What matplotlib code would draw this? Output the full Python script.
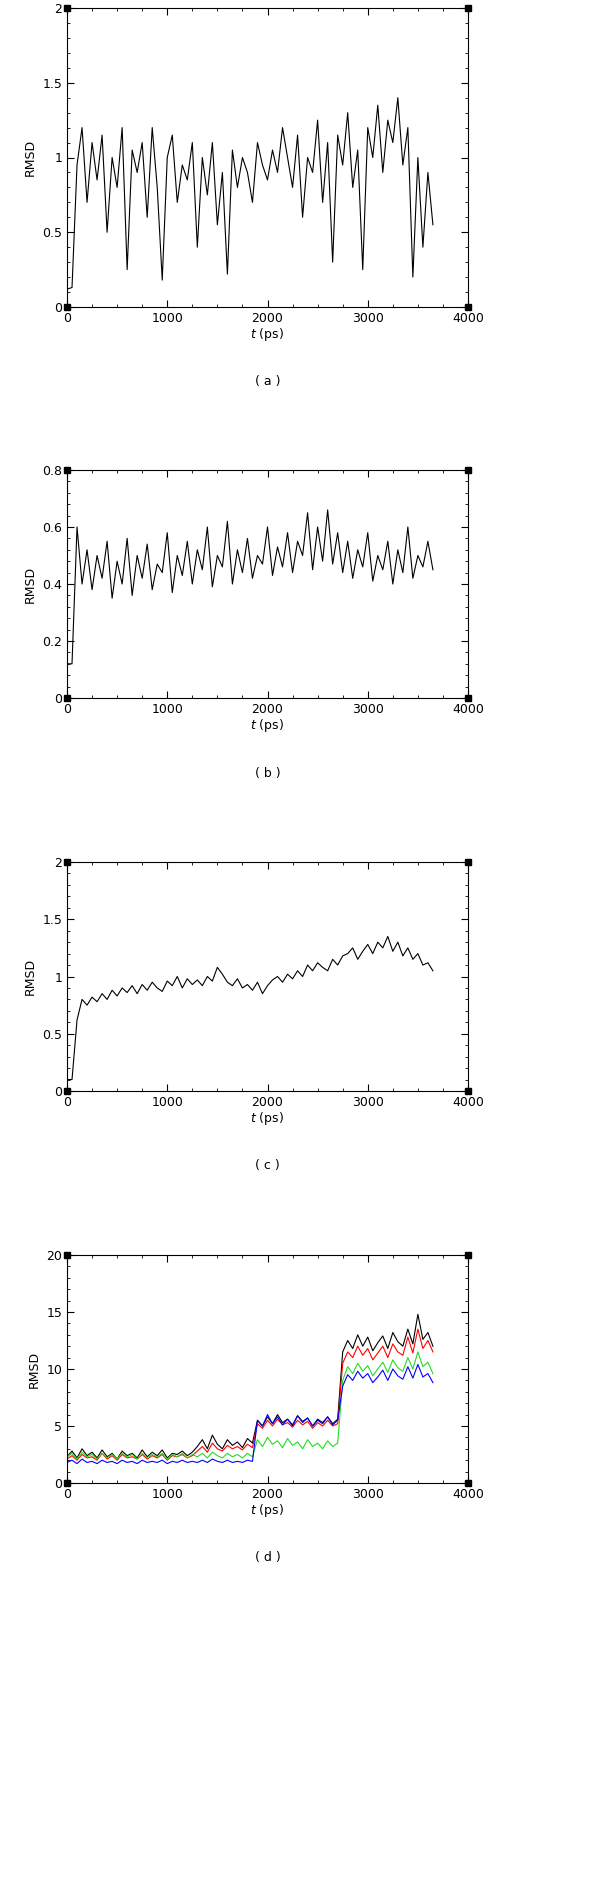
import numpy as np
import matplotlib.pyplot as plt
from matplotlib.ticker import AutoMinorLocator

# RMSD values, one sample every 50 ps
step = 50
rmsd_a = [0.12, 0.13, 0.95, 1.2, 0.7, 1.1, 0.85, 1.15, 0.5, 1.0, 0.8, 1.2, 0.25, 1.05, 0.9,
          1.1, 0.6, 1.2, 0.8, 0.18, 1.0, 1.15, 0.7, 0.95, 0.85, 1.1, 0.4, 1.0, 0.75, 1.1,
          0.55, 0.9, 0.22, 1.05, 0.8, 1.0, 0.9, 0.7, 1.1, 0.95, 0.85, 1.05, 0.9, 1.2, 1.0,
          0.8, 1.15, 0.6, 1.0, 0.9, 1.25, 0.7, 1.1, 0.3, 1.15, 0.95, 1.3, 0.8, 1.05, 0.25,
          1.2, 1.0, 1.35, 0.9, 1.25, 1.1, 1.4, 0.95, 1.2, 0.2, 1.0, 0.4, 0.9, 0.55]
rmsd_b = [0.12, 0.12, 0.6, 0.4, 0.52, 0.38, 0.5, 0.42, 0.55, 0.35, 0.48, 0.4, 0.56, 0.36, 0.5,
          0.42, 0.54, 0.38, 0.47, 0.44, 0.58, 0.37, 0.5, 0.43, 0.55, 0.4, 0.52, 0.45, 0.6,
          0.39, 0.5, 0.46, 0.62, 0.4, 0.52, 0.44, 0.56, 0.42, 0.5, 0.47, 0.6, 0.43, 0.53,
          0.46, 0.58, 0.44, 0.55, 0.5, 0.65, 0.45, 0.6, 0.48, 0.66, 0.47, 0.58, 0.44, 0.55,
          0.42, 0.52, 0.46, 0.58, 0.41, 0.5, 0.45, 0.55, 0.4, 0.52, 0.44, 0.6, 0.42, 0.5,
          0.46, 0.55, 0.45]
rmsd_c = [0.1, 0.1, 0.62, 0.8, 0.75, 0.82, 0.78, 0.85, 0.8, 0.88, 0.83, 0.9, 0.86, 0.92,
          0.85, 0.93, 0.88, 0.95, 0.9, 0.87, 0.96, 0.92, 1.0, 0.9, 0.98, 0.93, 0.97, 0.92,
          1.0, 0.96, 1.08, 1.02, 0.95, 0.92, 0.98, 0.9, 0.93, 0.88, 0.95, 0.85, 0.92, 0.97,
          1.0, 0.95, 1.02, 0.98, 1.05, 1.0, 1.1, 1.05, 1.12, 1.08, 1.05, 1.15, 1.1, 1.18,
          1.2, 1.25, 1.15, 1.22, 1.28, 1.2, 1.3, 1.25, 1.35, 1.22, 1.3, 1.18, 1.25, 1.15,
          1.2, 1.1, 1.12, 1.05]
rmsd_d_black = [2.3, 2.8, 2.2, 3.0, 2.4, 2.7, 2.2, 2.9, 2.3, 2.6, 2.1, 2.8, 2.4, 2.6, 2.2,
                2.9, 2.3, 2.7, 2.4, 2.9, 2.2, 2.6, 2.5, 2.8, 2.4, 2.7, 3.2, 3.8, 3.0, 4.2,
                3.4, 3.0, 3.8, 3.3, 3.6, 3.1, 3.9, 3.5, 5.5, 5.0, 5.8, 5.2, 6.0, 5.3, 5.6,
                5.1, 5.9, 5.4, 5.7, 5.0, 5.6, 5.3, 5.8, 5.2, 5.6, 11.5, 12.5, 11.8, 13.0,
                12.0, 12.8, 11.6, 12.3, 12.9, 11.8, 13.2, 12.4, 12.0, 13.5, 12.2, 14.8, 12.6,
                13.2, 12.0]
rmsd_d_red = [2.1, 2.4, 2.0, 2.5, 2.2, 2.3, 2.0, 2.6, 2.1, 2.4, 2.0, 2.5, 2.2, 2.3, 2.1,
              2.5, 2.1, 2.4, 2.2, 2.5, 2.0, 2.4, 2.3, 2.5, 2.2, 2.4, 2.8, 3.2, 2.7, 3.5,
              3.0, 2.8, 3.3, 3.0, 3.2, 2.9, 3.4, 3.1, 5.2, 4.8, 5.5, 5.0, 5.6, 5.1, 5.3,
              4.9, 5.5, 5.1, 5.4, 4.8, 5.3, 5.0, 5.5, 5.0, 5.2, 10.5, 11.5, 11.0, 12.0,
              11.2, 11.8, 10.8, 11.4, 12.0, 11.0, 12.2, 11.5, 11.2, 12.8, 11.4, 13.5, 11.8,
              12.5, 11.5]
rmsd_d_green = [2.3, 2.6, 2.1, 2.7, 2.3, 2.5, 2.1, 2.6, 2.2, 2.5, 2.1, 2.6, 2.3, 2.5, 2.1,
                2.6, 2.2, 2.5, 2.3, 2.6, 2.1, 2.5, 2.3, 2.6, 2.2, 2.5, 2.3, 2.6, 2.2, 2.7,
                2.4, 2.2, 2.6, 2.3, 2.5, 2.2, 2.6, 2.3, 3.8, 3.2, 4.0, 3.4, 3.7, 3.1, 3.9,
                3.3, 3.6, 3.0, 3.8, 3.2, 3.5, 3.0, 3.7, 3.2, 3.5, 9.0, 10.2, 9.6, 10.5,
                9.8, 10.3, 9.4, 10.0, 10.6, 9.7, 10.8, 10.1, 9.8, 11.0, 10.0, 11.5, 10.2,
                10.6, 9.6]
rmsd_d_blue = [1.8, 2.0, 1.7, 2.1, 1.8, 1.9, 1.7, 2.0, 1.8, 1.9, 1.7, 2.0, 1.8, 1.9, 1.7,
               2.0, 1.8, 1.9, 1.8, 2.0, 1.7, 1.9, 1.8, 2.0, 1.8, 1.9, 1.8, 2.0, 1.8, 2.1,
               1.9, 1.8, 2.0, 1.8, 1.9, 1.8, 2.0, 1.9, 5.5, 5.0, 6.0, 5.2, 5.8, 5.1, 5.6,
               5.0, 5.9, 5.3, 5.7, 5.0, 5.5, 5.2, 5.8, 5.1, 5.5, 8.5, 9.5, 9.0, 9.8,
               9.2, 9.6, 8.8, 9.3, 9.9, 9.0, 10.0, 9.4, 9.1, 10.2, 9.2, 10.4, 9.3, 9.6, 8.8]

panels = [
    ("(a)", [rmsd_a], ["black"], 2, [0, 0.5, 1, 1.5, 2], ["0", "0.5", "1", "1.5", "2"]),
    ("(b)", [rmsd_b], ["black"], 0.8, [0, 0.2, 0.4, 0.6, 0.8], ["0", "0.2", "0.4", "0.6", "0.8"]),
    ("(c)", [rmsd_c], ["black"], 2, [0, 0.5, 1, 1.5, 2], ["0", "0.5", "1", "1.5", "2"]),
    ("(d)", [rmsd_d_black, rmsd_d_red, rmsd_d_green, rmsd_d_blue],
     ["black", "red", "#22dd22", "blue"], 20, [0, 5, 10, 15, 20], ["0", "5", "10", "15", "20"]),
]
# axes boxes in pixels: (top, bottom)
boxes = [(8, 307), (470, 698), (862, 1091), (1255, 1483)]
label_y = [381, 773, 1165, 1557]

W, H = 600, 1878
fig = plt.figure(figsize=(W / 100, H / 100), dpi=100)
x0, x1 = 67, 468

for (lab, series, colors, ymax, yt, ytl), (top, bot), ly in zip(panels, boxes, label_y):
    ax = fig.add_axes([x0 / W, 1 - bot / H, (x1 - x0) / W, (bot - top) / H])
    for s, c in zip(series, colors):
        t = np.arange(len(s)) * step
        ax.plot(t, s, color=c, lw=0.8)
    ax.set_xlim(0, 4000)
    ax.set_ylim(0, ymax)
    ax.set_xticks([0, 1000, 2000, 3000, 4000])
    ax.set_yticks(yt)
    ax.set_yticklabels(ytl)
    ax.xaxis.set_minor_locator(AutoMinorLocator(4))
    ax.yaxis.set_minor_locator(AutoMinorLocator(5))
    ax.tick_params(which="both", direction="in", top=True, right=True, labelsize=9)
    ax.tick_params(which="major", length=5)
    ax.tick_params(which="minor", length=2.5)
    ax.set_ylabel("RMSD", fontsize=9)
    ax.set_xlabel("$t$ (ps)", fontsize=9, labelpad=1)
    for cx in (0, 1):
        for cy in (0, 1):
            ax.plot(cx, cy, "s", color="black", ms=4, transform=ax.transAxes, clip_on=False)
    fig.text(x0 / W + (x1 - x0) / W / 2, 1 - ly / H, "( " + lab[1] + " )",
             ha="center", va="center", fontsize=9)

fig.savefig("out.png", dpi=100)
